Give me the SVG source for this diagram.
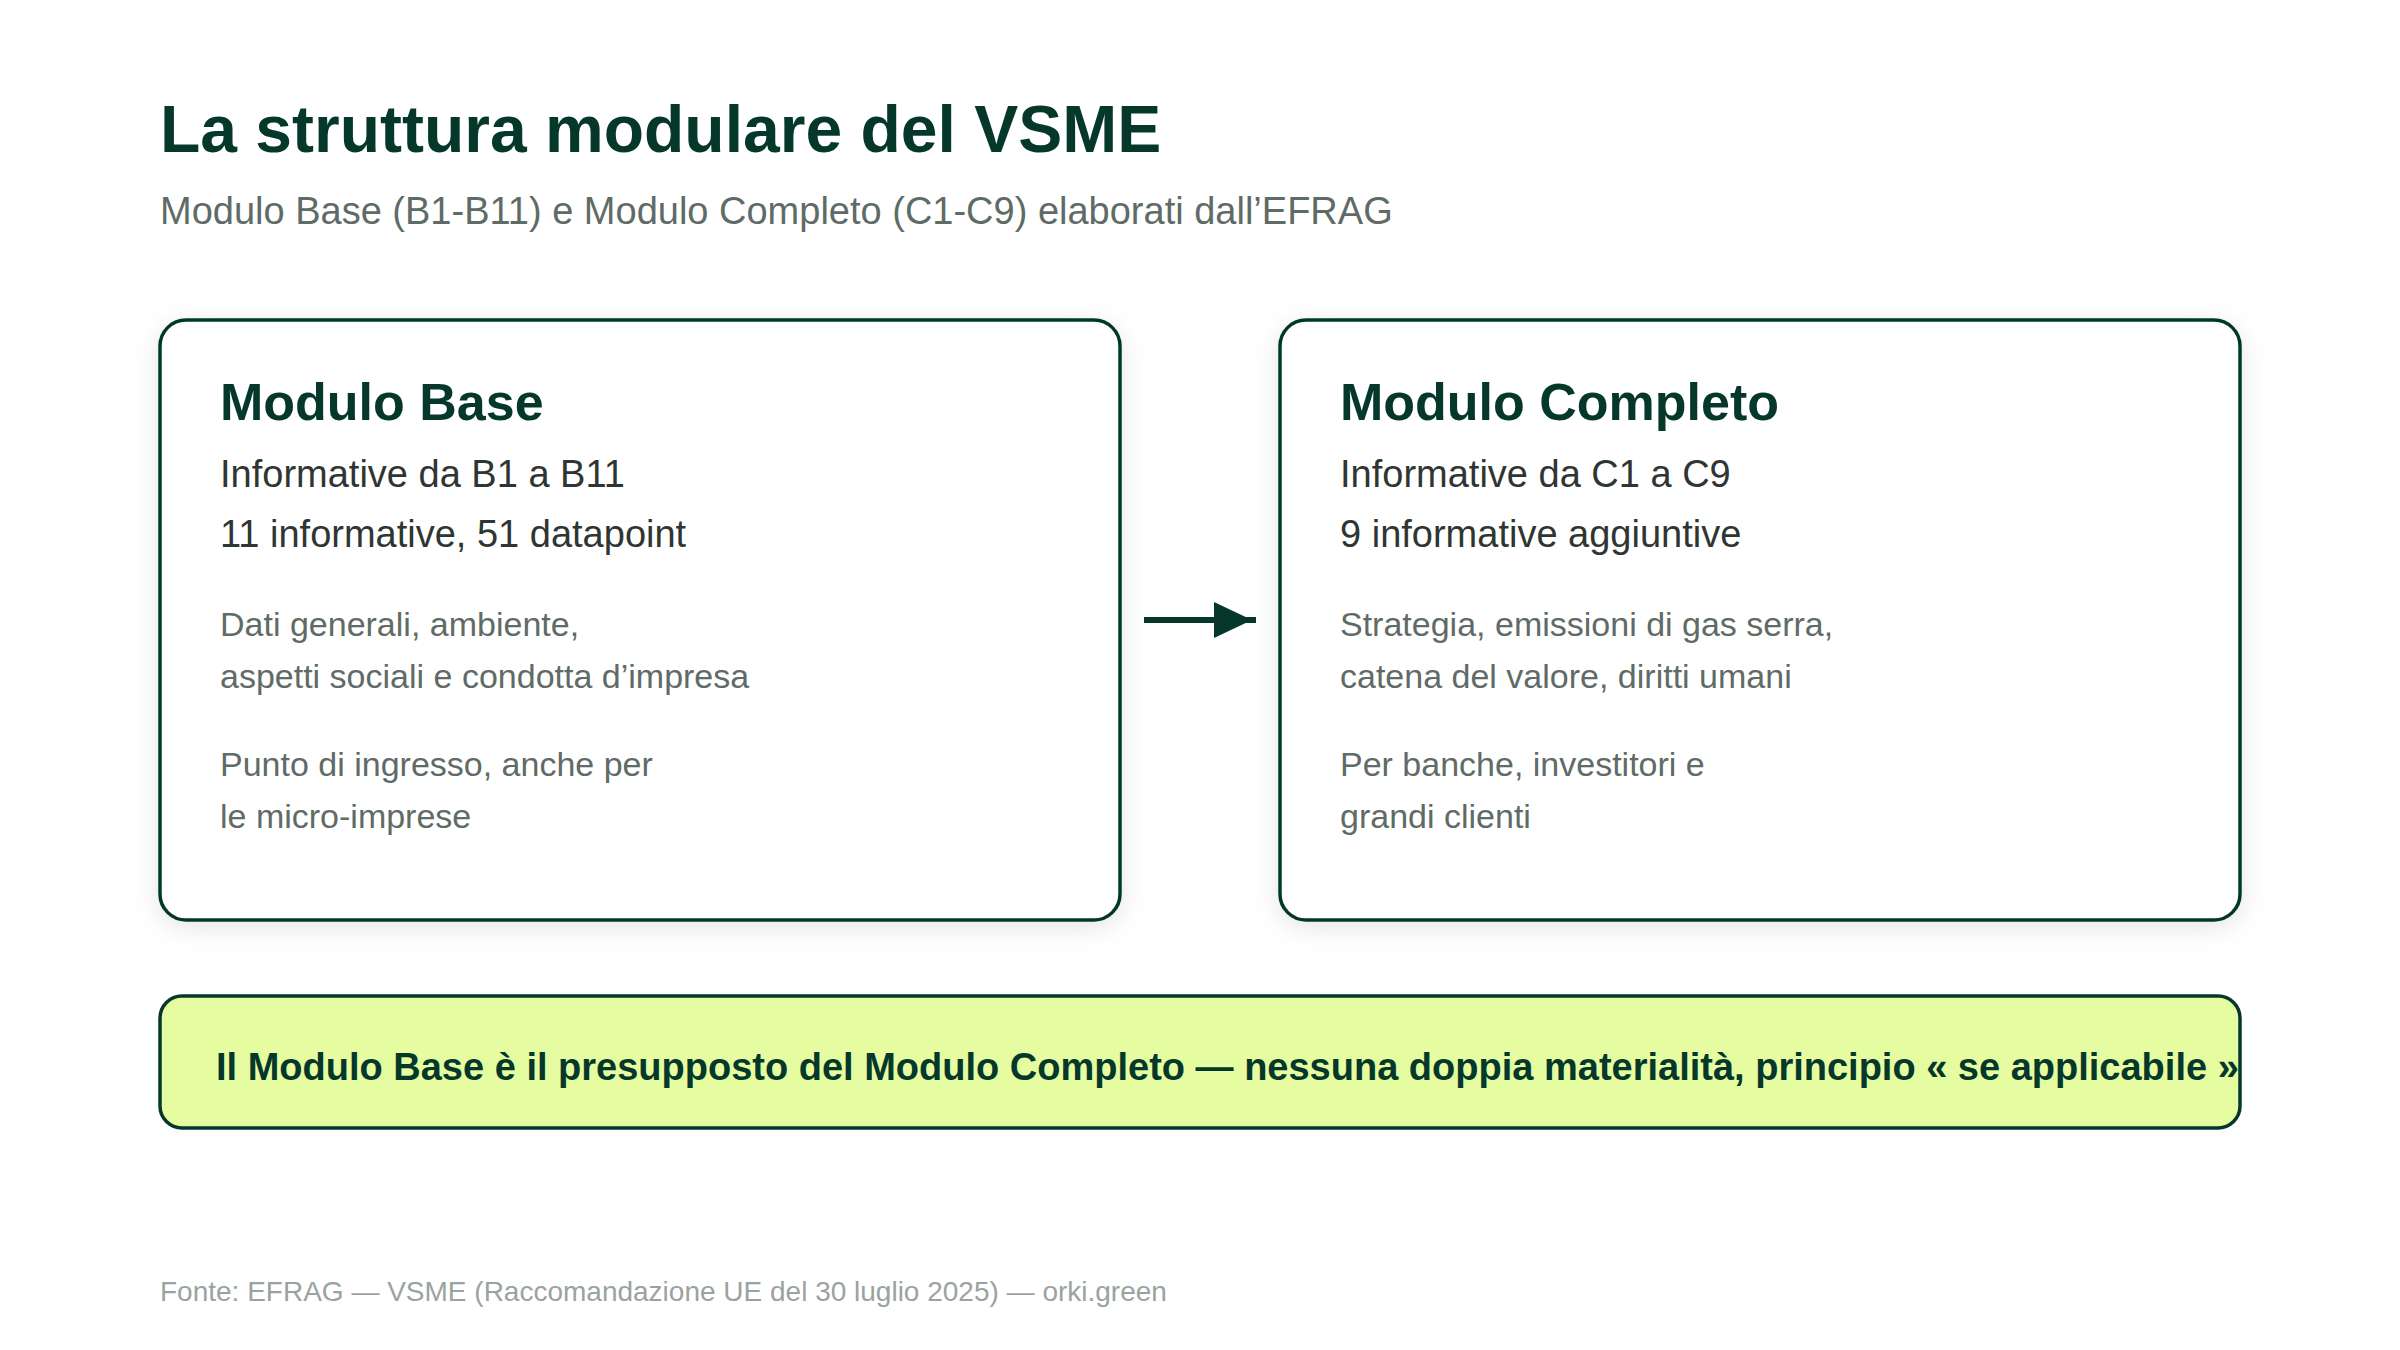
<svg xmlns="http://www.w3.org/2000/svg" width="2400" height="1350" viewBox="0 0 2400 1350">
<defs>
<style>
.t{font-family:"Liberation Sans",Arial,sans-serif}
.title{font-size:66px;font-weight:bold;fill:#05382b}
.sub{font-size:38px;fill:#5f6b66}
.box{fill:#ffffff;stroke:#05382b;stroke-width:3.5}
.h{font-size:52px;font-weight:bold;fill:#05382b}
.p{font-size:38px;fill:#2f3532}
.s{font-size:34px;fill:#5f6b66}
.banner{fill:#e6fca1;stroke:#05382b;stroke-width:3.5}
.bt{font-size:38px;font-weight:bold;fill:#05382b}
.foot{font-size:28px;fill:#9aa39f}
.conn{stroke:#05382b;stroke-width:6;fill:none}
</style>
<filter id="sh" x="-10%" y="-10%" width="120%" height="125%">
<feDropShadow dx="0" dy="6" stdDeviation="12" flood-color="#000" flood-opacity="0.10"/>
</filter>
<marker id="ah" markerUnits="userSpaceOnUse" markerWidth="38" markerHeight="36" viewBox="0 0 38 36" refX="42" refY="18" orient="auto" overflow="visible">
<path d="M0,0 L38,18 L0,36 Z" fill="#05382b"/>
</marker>
</defs>
<rect width="2400" height="1350" fill="#ffffff"/>
<g id="header">
<text class="t title" x="160" y="152">La struttura modulare del VSME</text>
<text class="t sub" x="160" y="224">Modulo Base (B1-B11) e Modulo Completo (C1-C9) elaborati dall’EFRAG</text>
</g>
<g id="modulo-base">
<rect class="box" x="160" y="320" width="960" height="600" rx="26" filter="url(#sh)"/>
<text class="t h" x="220" y="420">Modulo Base</text>
<text class="t p" x="220" y="487">Informative da B1 a B11</text>
<text class="t p" x="220" y="547">11 informative, 51 datapoint</text>
<text class="t s" x="220" y="636">Dati generali, ambiente,</text>
<text class="t s" x="220" y="688">aspetti sociali e condotta d’impresa</text>
<text class="t s" x="220" y="776">Punto di ingresso, anche per</text>
<text class="t s" x="220" y="828">le micro-imprese</text>
</g>
<g id="modulo-completo">
<rect class="box" x="1280" y="320" width="960" height="600" rx="26" filter="url(#sh)"/>
<text class="t h" x="1340" y="420">Modulo Completo</text>
<text class="t p" x="1340" y="487">Informative da C1 a C9</text>
<text class="t p" x="1340" y="547">9 informative aggiuntive</text>
<text class="t s" x="1340" y="636">Strategia, emissioni di gas serra,</text>
<text class="t s" x="1340" y="688">catena del valore, diritti umani</text>
<text class="t s" x="1340" y="776">Per banche, investitori e</text>
<text class="t s" x="1340" y="828">grandi clienti</text>
</g>
<g id="connectors">
<line class="conn" x1="1144" y1="620" x2="1256" y2="620" marker-end="url(#ah)"/>
</g>
<g id="banner">
<rect class="banner" x="160" y="996" width="2080" height="132" rx="22"/>
<text class="t bt" x="216" y="1080">Il Modulo Base è il presupposto del Modulo Completo — nessuna doppia materialità, principio « se applicabile »</text>
</g>
<g id="footer">
<text class="t foot" x="160" y="1301">Fonte: EFRAG — VSME (Raccomandazione UE del 30 luglio 2025) — orki.green</text>
</g>
</svg>
